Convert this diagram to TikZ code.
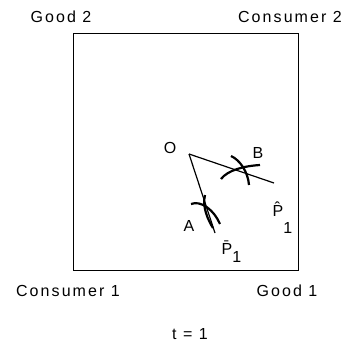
\documentclass[tikz,border=0pt]{standalone}
\usepackage{fontspec}
\setmainfont{Liberation Sans}[LetterSpace=13]
\tikzset{lbl/.style={font=\fontsize{16}{19}\selectfont,inner sep=0pt},curve/.style={line width=2.2pt}}
\begin{document}
\begin{tikzpicture}[x=1pt,y=-1pt,line width=1.2pt]
\useasboundingbox (0,0) rectangle (356,345);
\draw[line width=1pt] (73,34) rectangle (298,270);
\foreach \n/\x/\y/\t in {goodtwo/61/17/Good 2,constwo/290/17/Consumer 2,consone/68/291/Consumer 1,goodone/287/291/Good 1,time/190/334/t = 1}{\node[lbl] (\n) at (\x,\y){\t};}
\coordinate (O) at (189,154);\coordinate (A) at (208,212);\coordinate (B) at (240,171);
\coordinate (phat) at (274,183);\coordinate (pbar) at (215,233);
\draw (O)--(phat);\draw (O)--(pbar);
\draw[curve] (231,156) .. controls (240,160) and (248,172) .. (249,185);
\draw[curve] (221,179) .. controls (228,170) and (244,166) .. (260,165);
\draw[curve] (191,204) .. controls (201,200) and (214,210) .. (220,224);
\draw[curve] (205,195) .. controls (202,207) and (208,220) .. (213,228);
\node[lbl] (olbl) at (170,148){O};
\node[lbl] (albl) at (189,226){A};
\node[lbl] (blbl) at (258,153){B};
\node[lbl,anchor=base west] (phatlbl) at (272,216){\^{P}\raisebox{-17pt}{1}};
\node[lbl,anchor=base west] (pbarlbl) at (221,254){\={P}\raisebox{-8pt}{1}};
\end{tikzpicture}
\end{document}
